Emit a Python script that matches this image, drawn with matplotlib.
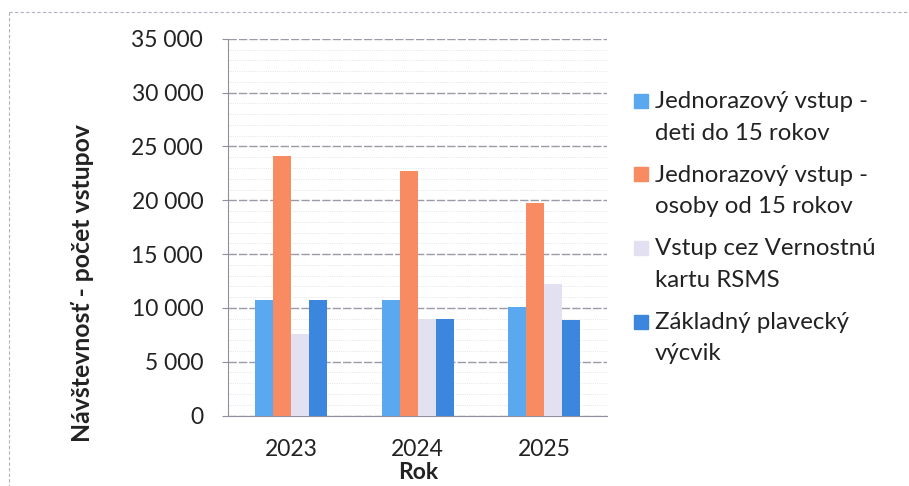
import matplotlib.pyplot as plt
import numpy as np
from matplotlib.patches import Rectangle
from matplotlib.ticker import FuncFormatter, MultipleLocator

years = ["2023", "2024", "2025"]
series_names = [
    "Jednorazový vstup -\ndeti do 15 rokov",
    "Jednorazový vstup -\nosoby od 15 rokov",
    "Vstup cez Vernostnú\nkartu RSMS",
    "Základný plavecký\nvýcvik",
]
deti = [10780, 10720, 10100]
dospeli = [24150, 22750, 19750]
vernostna = [7550, 9000, 12250]
plavecky = [10780, 9000, 8920]
colors = ["#5aa9f0", "#f98b63", "#e3e1f1", "#3c86de"]

plt.rcParams["font.family"] = ["Lato", "DejaVu Sans"]

fig = plt.figure(figsize=(9.09, 4.86), dpi=100)
ax = fig.add_axes([0.251, 0.145, 0.417, 0.775])

x = np.arange(len(years))
width = 0.142
values = [deti, dospeli, vernostna, plavecky]
for i, (vals, color) in enumerate(zip(values, colors)):
    ax.bar(x + (i - 1.5) * width, vals, width, color=color, zorder=3)

ax.set_xlim(-0.5, 2.5)
ax.set_ylim(0, 35000)
ax.yaxis.set_major_locator(MultipleLocator(5000))
ax.yaxis.set_minor_locator(MultipleLocator(1000))
ax.yaxis.set_major_formatter(FuncFormatter(lambda v, _: f"{int(v):,}".replace(",", " ")))
ax.set_xticks(x)
ax.set_xticklabels(years)

ax.grid(axis="y", which="major", color="#9a9aa8", linewidth=1.0, linestyle=(0, (6, 1.5)), zorder=0)
ax.grid(axis="y", which="minor", color="#dcdce4", linewidth=0.6, linestyle=":", zorder=0)

for side in ["top", "right"]:
    ax.spines[side].set_visible(False)
ax.spines["left"].set_color("#9090a0")
ax.spines["bottom"].set_color("#9090a0")
ax.tick_params(axis="y", which="major", length=4.5, color="#9090a0", pad=13.5, labelsize=16.5, labelcolor="#222222")
ax.tick_params(axis="y", which="minor", length=0)
ax.tick_params(axis="x", length=0, pad=17, labelsize=16.5, labelcolor="#222222")

fig.text(83 / 909, 1 - 283 / 486, "Návštevnosť - počet vstupov", rotation=90,
         ha="center", va="center", fontsize=17.8, fontweight="bold", color="#222222")
fig.text(0.46, 1 - 472 / 486, "Rok", ha="center", va="center",
         fontsize=16.5, fontweight="bold", color="#222222")

# legend drawn by hand so the marker sits next to the first line
for i, (name, color) in enumerate(zip(series_names, colors)):
    first_line = 101 + i * 73.5
    fig.patches.append(Rectangle((634 / 909, 1 - (first_line + 7) / 486), 14 / 909, 14 / 486,
                                 transform=fig.transFigure, color=color))
    fig.text(655 / 909, 1 - (first_line + 16.5) / 486, name, ha="left", va="center",
             fontsize=17.3, color="#222222", linespacing=1.63,
             transform=fig.transFigure)

# dashed outer frame of the chart area
fig.add_artist(plt.Line2D([9 / 909, 909 / 909], [1 - 12 / 486, 1 - 12 / 486],
                          transform=fig.transFigure, color="#b0b0c0", linewidth=0.8,
                          linestyle=(0, (3, 2))))
fig.add_artist(plt.Line2D([9 / 909, 9 / 909], [1 - 12 / 486, 0],
                          transform=fig.transFigure, color="#b0b0c0", linewidth=0.8,
                          linestyle=(0, (3, 2))))

fig.savefig("out.png", dpi=100)
